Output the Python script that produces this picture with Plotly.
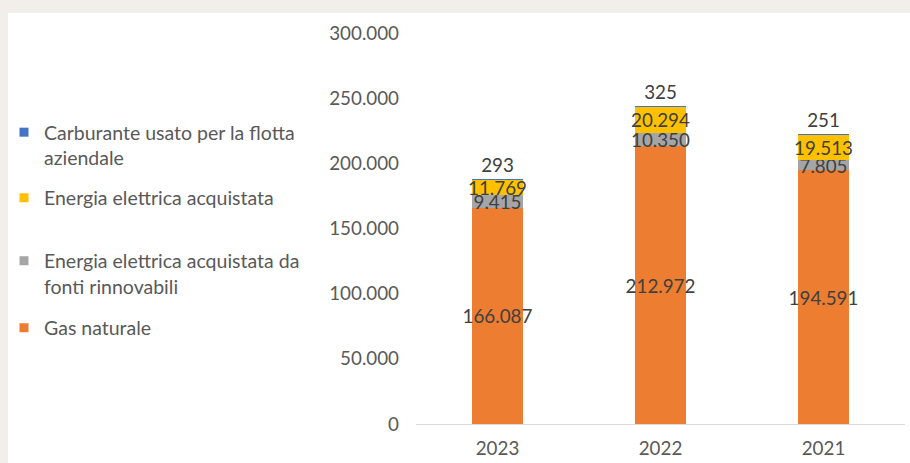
import plotly.graph_objects as go

years = ["2023", "2022", "2021"]
gas_naturale = [166087, 212972, 194591]
energia_rinnovabili = [9415, 10350, 7805]
energia_acquistata = [11769, 20294, 19513]
carburante_flotta = [293, 325, 251]

y_ticks = [0, 50000, 100000, 150000, 200000, 250000, 300000]

names = {
    "gas": "Gas naturale",
    "rinn": "Energia elettrica acquistata da<br>fonti rinnovabili",
    "acq": "Energia elettrica acquistata",
    "carb": "Carburante usato per la flotta<br>aziendale",
}
colors = {"gas": "#ED7D31", "rinn": "#A5A5A5", "acq": "#FFC000", "carb": "#4472C4"}

W, H = 910, 463
ML, MR, MT, MB = 416, 5, 33, 39
FONT = "Lato"
FS = 18.8
LEG_FS = 19.5
LABEL_COLOR = "#404040"
TEXT_GREY = "#595959"

fig = go.Figure()

inside_common = dict(
    textposition="inside",
    insidetextanchor="middle",
    textangle=0,
    constraintext="none",
    texttemplate="%{y:,.0f}",
    textfont=dict(family=FONT, size=FS, color=LABEL_COLOR),
    showlegend=False,
    hoverinfo="skip",
    cliponaxis=False,
)

fig.add_trace(go.Bar(x=years, y=gas_naturale, marker=dict(color=colors["gas"], line=dict(width=0)), **inside_common))
fig.add_trace(go.Bar(x=years, y=energia_rinnovabili, marker=dict(color=colors["rinn"], line=dict(width=0)), **inside_common))
fig.add_trace(go.Bar(x=years, y=energia_acquistata, marker=dict(color=colors["acq"], line=dict(width=0)), **inside_common))
fig.add_trace(go.Bar(
    x=years, y=carburante_flotta,
    marker=dict(color=colors["carb"], line=dict(width=0)),
    textposition="outside", textangle=0, constraintext="none",
    texttemplate="%{y:,.0f}",
    textfont=dict(family=FONT, size=FS, color=LABEL_COLOR),
    showlegend=False, hoverinfo="skip", cliponaxis=False,
))

# legend proxies, one legend each for exact placement
legend_items = [
    ("carb", "legend", 145),
    ("acq", "legend2", 198),
    ("rinn", "legend3", 273.5),
    ("gas", "legend4", 328),
]
legend_layouts = {}
for key, lg, ypx in legend_items:
    fig.add_trace(go.Scatter(
        x=[None], y=[None], mode="markers", name=names[key],
        marker=dict(symbol="square", size=9, color=colors[key]),
        legend=lg, showlegend=True, hoverinfo="skip",
    ))
    legend_layouts[lg] = dict(
        xref="container", yref="container",
        x=4 / W, y=1 - ypx / H, xanchor="left", yanchor="middle",
        valign="top", bgcolor="rgba(0,0,0,0)", borderwidth=0,
        font=dict(family=FONT, size=LEG_FS, color=TEXT_GREY),
        itemclick=False, itemdoubleclick=False,
    )

pw = W - ML - MR
ph = H - MT - MB
# white card over the beige page (beige strips at top and left)
card = dict(
    type="rect", xref="paper", yref="paper", layer="below",
    x0=(8 - ML) / pw, x1=(W + 5 - ML) / pw,
    y0=-(MB + 5) / ph, y1=(H - MB - 13) / ph,
    fillcolor="white", line=dict(width=0),
)

fig.update_layout(
    width=W, height=H,
    margin=dict(l=ML, r=MR, t=MT, b=MB, pad=0, autoexpand=False),
    barmode="stack", bargap=0.69,
    paper_bgcolor="#F2EFEB", plot_bgcolor="rgba(0,0,0,0)",
    separators=",.",
    font=dict(family=FONT, size=FS, color=TEXT_GREY),
    shapes=[card],
    xaxis=dict(
        type="category", showgrid=False, zeroline=False, automargin=False,
        showline=True, linecolor="#D9D9D9", linewidth=1,
        ticks="", ticklabelstandoff=7,
        tickfont=dict(family=FONT, size=FS, color=TEXT_GREY),
        fixedrange=True,
    ),
    yaxis=dict(
        range=[0, 300000], tickvals=y_ticks, tickformat=",.0f", automargin=False,
        showgrid=False, zeroline=False, showline=False,
        ticks="", ticklabelstandoff=16,
        tickfont=dict(family=FONT, size=FS, color=TEXT_GREY),
        fixedrange=True,
    ),
    **legend_layouts,
)

fig.write_html(
    "out.html",
    config={"displayModeBar": False},
    post_script="document.body.style.margin='0';document.body.style.overflow='hidden';",
)
